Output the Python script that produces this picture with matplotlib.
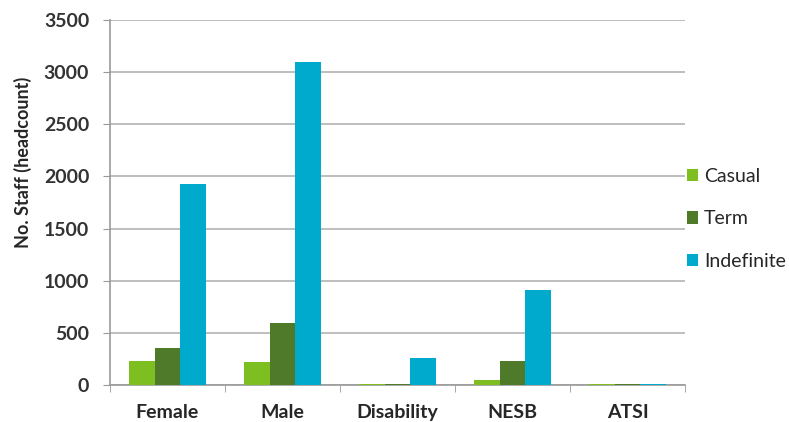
import numpy as np
import matplotlib.pyplot as plt

# --- dados ---
categories = ["Female", "Male", "Disability", "NESB", "ATSI"]
casual = [232, 223, 10, 51, 8]
term = [354, 598, 10, 233, 8]
indefinite = [1928, 3097, 259, 907, 12]

series_names = ["Casual", "Term", "Indefinite"]
colors = ["#7dbf21", "#4e7a2a", "#00aacc"]

plt.rcParams["font.family"] = ["Lato", "DejaVu Sans"]

fig = plt.figure(figsize=(7.89, 4.22), dpi=100)
ax = fig.add_axes([0.1394, 0.0877, 0.7288, 0.8649])

x = np.arange(len(categories))
w = 0.223
for i, (vals, name, c) in enumerate(zip([casual, term, indefinite], series_names, colors)):
    ax.bar(x + (i - 1) * w, vals, width=w, color=c, label=name, zorder=3)

ax.set_xlim(-0.5, len(categories) - 0.5)
ax.set_ylim(0, 3500)
ax.set_yticks(np.arange(0, 3501, 500))
ax.yaxis.grid(True, color="#b3b3b3", linewidth=1.2, zorder=0)

# ticks de categoria nas fronteiras
ax.set_xticks(x)
ax.set_xticklabels(categories, fontsize=14, fontweight="bold", color="#262626")
ax.set_xticks(np.arange(-0.5, len(categories)), minor=True)
ax.tick_params(axis="x", which="major", length=0, pad=14)
ax.tick_params(axis="x", which="minor", length=5, color="#999999", direction="out")
ax.tick_params(axis="y", length=5, color="#999999", labelsize=14, labelcolor="#333333", pad=10)
for lab in ax.get_yticklabels():
    lab.set_fontweight("bold")

for s in ["top", "right"]:
    ax.spines[s].set_visible(False)
for s in ["left", "bottom"]:
    ax.spines[s].set_color("#999999")
    ax.spines[s].set_linewidth(1.2)

ax.set_ylabel("No. Staff (headcount)", fontsize=13, fontweight="bold", color="#262626")
ax.yaxis.set_label_coords(-0.136, 0.61)

ax.legend(loc="center left", bbox_to_anchor=(1.003, 0.455), frameon=False, fontsize=14,
          handlelength=0.6, handleheight=0.6, handletextpad=0.3, labelspacing=1.3,
          borderaxespad=0.0, borderpad=0.0, labelcolor="#262626")

fig.savefig("out.png", dpi=100)
